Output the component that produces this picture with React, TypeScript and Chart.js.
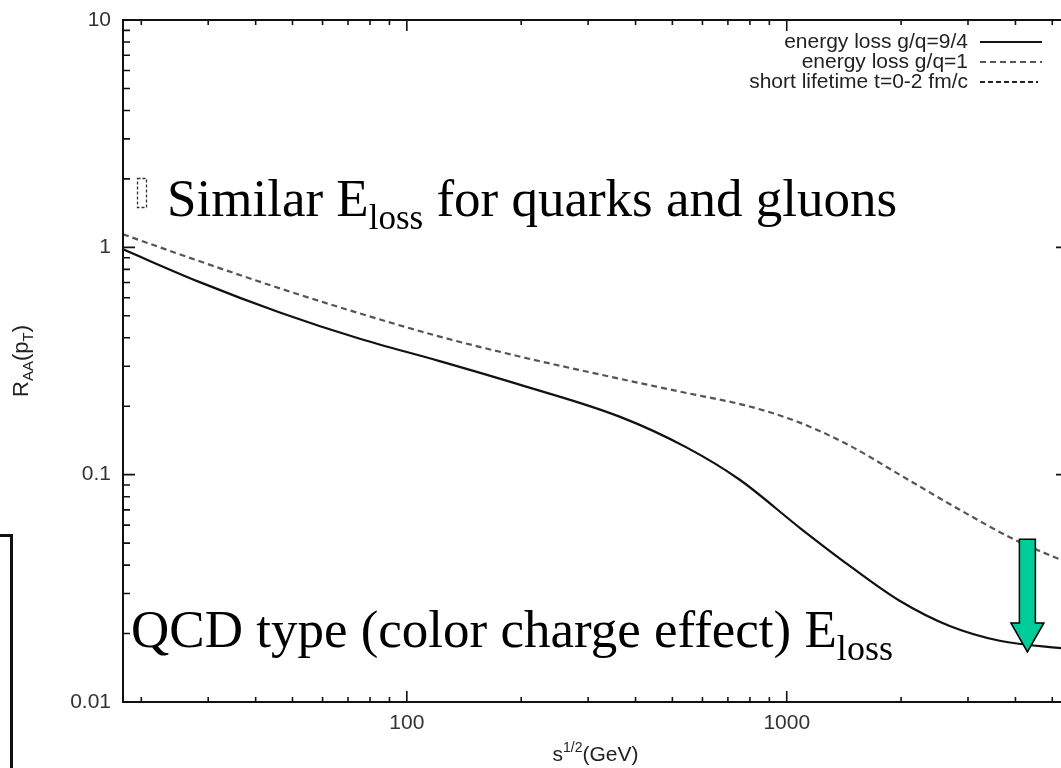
import React, { useEffect, useRef } from 'react';
import { Chart, registerables } from 'chart.js';

Chart.register(...registerables);

// Series names as shown in the key
const SERIES_LABELS = ['energy loss g/q=9/4', 'energy loss g/q=1', 'short lifetime t=0-2 fm/c'];

// sqrt(s) [GeV] and nuclear modification factor, gluon/quark loss ratio 9/4
const SQRT_S_GQ94 = [17.9, 28.5, 46.3, 75.2, 122, 198, 363, 546, 752, 1082, 1465, 1982, 2685, 3635, 5500];
const RAA_GQ94 = [0.98, 0.703, 0.517, 0.396, 0.316, 0.249, 0.18, 0.1315, 0.095, 0.0584, 0.0397, 0.0279, 0.0216, 0.0186, 0.0171];

// gluon/quark loss ratio 1
const SQRT_S_GQ1 = [17.9, 28.5, 46.3, 75.2, 122, 198, 322, 523, 799, 1082, 1465, 1982, 2853, 4030, 5500];
const RAA_GQ1 = [1.141, 0.868, 0.66, 0.512, 0.405, 0.331, 0.276, 0.232, 0.1994, 0.1694, 0.1342, 0.1, 0.0701, 0.0512, 0.041];

// short-lifetime scenario stays off the plotted range
const SQRT_S_SHORT: number[] = [];
const RAA_SHORT: number[] = [];

// Axis ranges and tick values
const X_RANGE = [17.9, 5500];
const Y_RANGE = [0.01, 10];
const X_MAJOR_TICKS = [100, 1000];
const Y_MAJOR_TICKS = [0.01, 0.1, 1, 10];
const X_DECADES = [10, 100, 1000];
const Y_DECADES = [0.01, 0.1, 1];
const MINOR_STEPS = [2, 3, 4, 5, 6, 7, 8, 9];

// Arrow marking the LHC energy
const ARROW_X = 4300;
const ARROW_FROM = 0.052;
const ARROW_TO = 0.0166;

const SANS = '"Liberation Sans", Arial, sans-serif';
const SERIF = '"Liberation Serif", "Times New Roman", serif';

type Part = { t: string; size: number; dy: number };

function drawRich(ctx: CanvasRenderingContext2D, parts: Part[], family: string, x: number, y: number, align: 'left' | 'center') {
  let total = 0;
  const widths = parts.map((p) => {
    ctx.font = `${p.size}px ${family}`;
    const w = ctx.measureText(p.t).width;
    total += w;
    return w;
  });
  let cx = align === 'center' ? x - total / 2 : x;
  ctx.textAlign = 'left';
  ctx.textBaseline = 'alphabetic';
  parts.forEach((p, i) => {
    ctx.font = `${p.size}px ${family}`;
    ctx.fillText(p.t, cx, y + p.dy);
    cx += widths[i];
  });
}

const frameAndNotes = {
  id: 'frameAndNotes',
  afterDraw(chart: any) {
    const { ctx, chartArea: a, scales } = chart;
    const xs = scales.x;
    const ys = scales.y;
    ctx.save();

    // frame
    ctx.strokeStyle = '#111';
    ctx.lineWidth = 2;
    ctx.strokeRect(a.left, a.top, a.right - a.left, a.bottom - a.top);

    // inward ticks on all four sides
    ctx.lineWidth = 1.6;
    const xTick = (v: number, len: number) => {
      const px = xs.getPixelForValue(v);
      if (px < a.left - 0.5 || px > a.right + 0.5) return;
      ctx.beginPath();
      ctx.moveTo(px, a.bottom);
      ctx.lineTo(px, a.bottom - len);
      ctx.moveTo(px, a.top);
      ctx.lineTo(px, a.top + len);
      ctx.stroke();
    };
    const yTick = (v: number, len: number) => {
      const py = ys.getPixelForValue(v);
      if (py < a.top - 0.5 || py > a.bottom + 0.5) return;
      ctx.beginPath();
      ctx.moveTo(a.left, py);
      ctx.lineTo(a.left + len, py);
      ctx.moveTo(a.right, py);
      ctx.lineTo(a.right - len, py);
      ctx.stroke();
    };
    X_DECADES.forEach((d) => MINOR_STEPS.forEach((m) => xTick(d * m, 5)));
    X_MAJOR_TICKS.forEach((v) => xTick(v, 11));
    Y_DECADES.forEach((d) => MINOR_STEPS.forEach((m) => yTick(d * m, 7)));
    Y_MAJOR_TICKS.forEach((v) => yTick(v, 12));

    // key, text to the left of each sample line
    chart.data.datasets.forEach((ds: any, i: number) => {
      const ly = a.top + 22 + i * 20;
      ctx.font = `21px ${SANS}`;
      ctx.fillStyle = '#222';
      ctx.textAlign = 'right';
      ctx.textBaseline = 'middle';
      ctx.fillText(ds.label, a.right - 100, ly);
      ctx.beginPath();
      ctx.strokeStyle = ds.borderColor;
      ctx.lineWidth = 2;
      ctx.setLineDash(ds.borderDash || []);
      ctx.moveTo(a.right - 88, ly);
      ctx.lineTo(a.right - (i === 2 ? 30 : 26), ly);
      ctx.stroke();
      ctx.setLineDash([]);
    });

    // axis titles
    ctx.fillStyle = '#222';
    drawRich(
      ctx,
      [
        { t: 's', size: 21, dy: 0 },
        { t: '1/2', size: 14, dy: -9 },
        { t: '(GeV)', size: 21, dy: 0 },
      ],
      SANS,
      (a.left + a.right) / 2,
      a.bottom + 59,
      'center'
    );
    ctx.save();
    ctx.translate(28, (a.top + a.bottom) / 2);
    ctx.rotate(-Math.PI / 2);
    drawRich(
      ctx,
      [
        { t: 'R', size: 22, dy: 0 },
        { t: 'AA', size: 15, dy: 5 },
        { t: '(p', size: 22, dy: 0 },
        { t: 'T', size: 15, dy: 5 },
        { t: ')', size: 22, dy: 0 },
      ],
      SANS,
      0,
      0,
      'center'
    );
    ctx.restore();

    // arrow
    const ax = xs.getPixelForValue(ARROW_X);
    const at = ys.getPixelForValue(ARROW_FROM);
    const tip = ys.getPixelForValue(ARROW_TO);
    const headLen = 29;
    ctx.beginPath();
    ctx.moveTo(ax - 8, at);
    ctx.lineTo(ax + 8, at);
    ctx.lineTo(ax + 8, tip - headLen);
    ctx.lineTo(ax + 16.5, tip - headLen);
    ctx.lineTo(ax, tip);
    ctx.lineTo(ax - 16.5, tip - headLen);
    ctx.lineTo(ax - 8, tip - headLen);
    ctx.closePath();
    ctx.fillStyle = '#00CC99';
    ctx.fill();
    ctx.strokeStyle = '#000';
    ctx.lineWidth = 1.5;
    ctx.stroke();

    // callout texts
    ctx.fillStyle = '#000';
    drawRich(
      ctx,
      [
        { t: 'Similar E', size: 53, dy: 0 },
        { t: 'loss', size: 35, dy: 13 },
        { t: ' for quarks and gluons', size: 53, dy: 0 },
      ],
      SERIF,
      a.left + 44,
      a.top + 196,
      'left'
    );
    drawRich(
      ctx,
      [
        { t: 'QCD type (color charge effect) E', size: 53, dy: 0 },
        { t: 'loss', size: 36, dy: 13 },
      ],
      SERIF,
      a.left + 8,
      a.bottom - 55,
      'left'
    );

    // small dashed placeholder box next to the upper callout
    ctx.strokeStyle = '#333';
    ctx.lineWidth = 1.3;
    ctx.setLineDash([3, 2]);
    ctx.strokeRect(a.left + 14.5, a.top + 158.5, 9, 29);
    ctx.setLineDash([]);

    ctx.restore();
  },
};

const toPoints = (xs: number[], ys: number[]) => xs.map((x, i) => ({ x, y: ys[i] }));

export default function App() {
  const ref = useRef<HTMLCanvasElement>(null);

  useEffect(() => {
    const tickFont = { family: SANS, size: 21 };
    const chart = new Chart(ref.current as HTMLCanvasElement, {
      type: 'line',
      data: {
        datasets: [
          {
            label: SERIES_LABELS[0],
            data: toPoints(SQRT_S_GQ94, RAA_GQ94),
            borderColor: '#111',
            borderWidth: 2.2,
            pointRadius: 0,
            cubicInterpolationMode: 'monotone',
          },
          {
            label: SERIES_LABELS[1],
            data: toPoints(SQRT_S_GQ1, RAA_GQ1),
            borderColor: '#555',
            borderWidth: 2.2,
            borderDash: [6, 4],
            pointRadius: 0,
            cubicInterpolationMode: 'monotone',
          },
          {
            label: SERIES_LABELS[2],
            data: toPoints(SQRT_S_SHORT, RAA_SHORT),
            borderColor: '#222',
            borderWidth: 2,
            borderDash: [5, 3],
            pointRadius: 0,
          },
        ],
      } as any,
      options: {
        responsive: false,
        maintainAspectRatio: false,
        animation: false,
        layout: { padding: { top: 20, right: 17, left: 0, bottom: 0 } },
        plugins: { legend: { display: false }, tooltip: { enabled: false } },
        scales: {
          x: {
            type: 'logarithmic',
            min: X_RANGE[0],
            max: X_RANGE[1],
            grid: { display: false },
            border: { display: false },
            ticks: {
              font: tickFont,
              color: '#333',
              padding: 1,
              maxRotation: 0,
              autoSkip: false,
              callback: (v: any) => String(v),
            },
            afterBuildTicks: (s: any) => {
              s.ticks = X_MAJOR_TICKS.map((value) => ({ value }));
            },
            afterFit: (s: any) => {
              s.height = 66;
              s.paddingLeft = 0;
              s.paddingRight = 0;
            },
          },
          y: {
            type: 'logarithmic',
            min: Y_RANGE[0],
            max: Y_RANGE[1],
            grid: { display: false },
            border: { display: false },
            ticks: {
              font: tickFont,
              color: '#333',
              padding: 4,
              autoSkip: false,
              callback: (v: any) => String(v),
            },
            afterBuildTicks: (s: any) => {
              s.ticks = Y_MAJOR_TICKS.map((value) => ({ value }));
            },
            afterFit: (s: any) => {
              s.width = 123;
              s.paddingTop = 0;
              s.paddingBottom = 0;
            },
          },
        },
      } as any,
      plugins: [frameAndNotes],
    });
    return () => chart.destroy();
  }, []);

  return (
    <div
      style={{
        position: 'fixed',
        left: 0,
        top: 0,
        width: 1061,
        height: 768,
        overflow: 'hidden',
        background: '#fff',
      }}
    >
      <canvas
        ref={ref}
        width={1085}
        height={768}
        style={{ position: 'absolute', left: 0, top: 0, width: 1085, height: 768 }}
      />
      <div
        style={{
          position: 'absolute',
          left: -20,
          top: 534,
          width: 27,
          height: 300,
          border: '3px solid #111',
        }}
      />
    </div>
  );
}
